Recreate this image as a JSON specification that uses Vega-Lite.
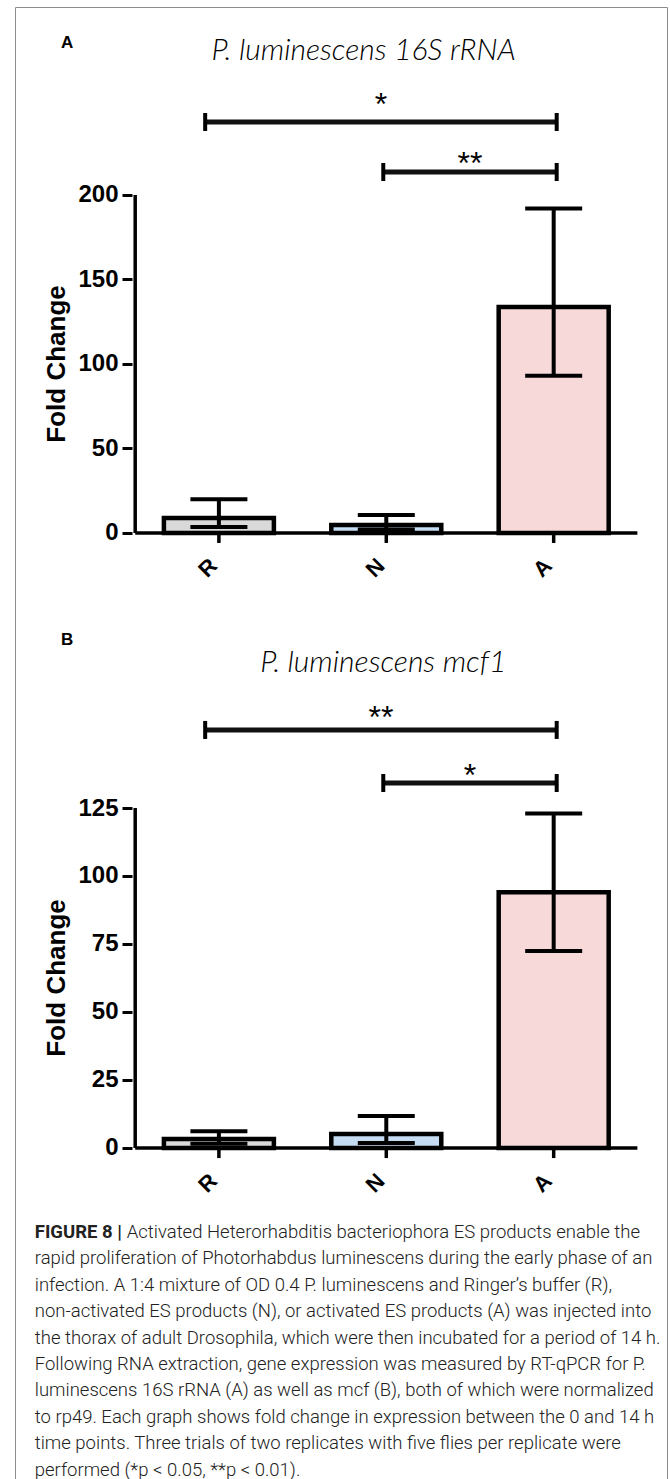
{
  "$schema": "https://vega.github.io/schema/vega-lite/v6.json",
  "width": 652,
  "height": 1474,
  "autosize": "none",
  "padding": {"left": 15, "top": 7, "right": 3, "bottom": 0},
  "background": "white",
  "config": {
    "view": {"stroke": "#8c8c8c", "strokeWidth": 1},
    "font": "Liberation Sans"
  },
  "datasets": {
    "bars": [
      {"panel": "A", "grp": "R", "idx": 1, "val": 8.9, "lo": 3.5, "hi": 20},
      {"panel": "A", "grp": "N", "idx": 2, "val": 4.7, "lo": 2, "hi": 10.6},
      {"panel": "A", "grp": "A", "idx": 3, "val": 133.7, "lo": 93, "hi": 192},
      {"panel": "B", "grp": "R", "idx": 1, "val": 3.3, "lo": 1.6, "hi": 6.2},
      {"panel": "B", "grp": "N", "idx": 2, "val": 5.1, "lo": 1.8, "hi": 11.8},
      {"panel": "B", "grp": "A", "idx": 3, "val": 94, "lo": 72.4, "hi": 123}
    ],
    "frames": [
      {"panel": "A", "x0": 0.5, "x1": 3.5, "ytop": 200},
      {"panel": "B", "x0": 0.5, "x1": 3.5, "ytop": 125}
    ],
    "sig": [
      {"panel": "A", "x1": 0.918, "x2": 3.018, "y": 243.2, "lx": 1.968, "ly": 258.0, "label": "*"},
      {"panel": "A", "x1": 1.982, "x2": 3.018, "y": 213.6, "lx": 2.5, "ly": 223.1, "label": "**"},
      {"panel": "B", "x1": 0.918, "x2": 3.018, "y": 153.7, "lx": 1.968, "ly": 161.0, "label": "**"},
      {"panel": "B", "x1": 1.982, "x2": 3.018, "y": 134.2, "lx": 2.5, "ly": 139.7, "label": "*"}
    ],
    "heads": [
      {"panel": "A", "kind": "title", "text": "P. luminescens 16S rRNA", "tx": 1.865, "ty": 285.5},
      {"panel": "A", "kind": "letter", "text": "A", "tx": 0.094, "ty": 290},
      {"panel": "A", "kind": "ytitle", "text": "Fold Change", "tx": 0.035, "ty": 100},
      {"panel": "B", "kind": "title", "text": "P. luminescens mcf1", "tx": 1.982, "ty": 178.3},
      {"panel": "B", "kind": "letter", "text": "B", "tx": 0.094, "ty": 186.8},
      {"panel": "B", "kind": "ytitle", "text": "Fold Change", "tx": 0.035, "ty": 62.5}
    ],
    "caption": [
      {"line": 1, "seg": "bold", "text": "FIGURE 8 |"},
      {"line": 1, "seg": "after", "text": "Activated Heterorhabditis bacteriophora ES products enable the"},
      {"line": 2, "seg": "plain", "text": "rapid proliferation of Photorhabdus luminescens during the early phase of an"},
      {"line": 3, "seg": "plain", "text": "infection. A 1:4 mixture of OD 0.4 P. luminescens and Ringer’s buffer (R),"},
      {"line": 4, "seg": "plain", "text": "non-activated ES products (N), or activated ES products (A) was injected into"},
      {"line": 5, "seg": "plain", "text": "the thorax of adult Drosophila, which were then incubated for a period of 14 h."},
      {"line": 6, "seg": "plain", "text": "Following RNA extraction, gene expression was measured by RT-qPCR for P."},
      {"line": 7, "seg": "plain", "text": "luminescens 16S rRNA (A) as well as mcf (B), both of which were normalized"},
      {"line": 8, "seg": "plain", "text": "to rp49. Each graph shows fold change in expression between the 0 and 14 h"},
      {"line": 9, "seg": "plain", "text": "time points. Three trials of two replicates with five flies per replicate were"},
      {"line": 10, "seg": "plain", "text": "performed (*p < 0.05, **p < 0.01)."}
    ]
  },
  "layer": [
    {
      "data": {"name": "bars"},
      "transform": [{"filter": "datum.panel === 'A'"}],
      "mark": {"type": "bar", "width": 110, "stroke": "#000", "strokeWidth": 4.5},
      "encoding": {
        "x": {"field": "idx", "type": "quantitative", "scale": {"domain": [-0.1882, 3.6471], "nice": false, "zero": false}, "axis": null},
        "y": {"field": "val", "type": "quantitative", "scale": {"domain": [-560.95, 311.24], "nice": false, "zero": false},
          "axis": {"orient": "left", "offset": -117, "values": [0, 50, 100, 150, 200], "domain": false, "grid": false, "title": null, "tickSize": 10, "tickWidth": 3, "tickColor": "#000", "labelFont": "Liberation Sans", "labelFontSize": 24, "labelFontWeight": "bold", "labelColor": "#000", "labelPadding": 4}},
        "y2": {"datum": 0},
        "color": {"field": "grp", "type": "nominal", "scale": {"domain": ["R", "N", "A"], "range": ["#d9d9d9", "#c6dcf2", "#f8d9da"]}, "legend": null}
      }
    },
    {
      "data": {"name": "bars"},
      "transform": [{"filter": "datum.panel === 'B'"}],
      "mark": {"type": "bar", "width": 110, "stroke": "#000", "strokeWidth": 4.5},
      "encoding": {
        "x": {"field": "idx", "type": "quantitative", "axis": null},
        "y": {"field": "val", "type": "quantitative", "scale": {"domain": [-122.43, 419.49], "nice": false, "zero": false},
          "axis": {"orient": "left", "offset": -117, "values": [0, 25, 50, 75, 100, 125], "domain": false, "grid": false, "title": null, "tickSize": 10, "tickWidth": 3, "tickColor": "#000", "labelFont": "Liberation Sans", "labelFontSize": 24, "labelFontWeight": "bold", "labelColor": "#000", "labelPadding": 4}},
        "y2": {"datum": 0},
        "color": {"field": "grp", "type": "nominal", "legend": null}
      }
    },
    {
      "data": {"name": "bars"},
      "transform": [{"filter": "datum.panel === 'A'"}],
      "mark": {"type": "rule", "color": "#000", "strokeWidth": 4},
      "encoding": {
        "x": {"field": "idx", "type": "quantitative", "axis": null},
        "y": {"field": "lo", "type": "quantitative", "scale": {"domain": [-560.95, 311.24], "nice": false, "zero": false}, "axis": null},
        "y2": {"field": "hi"}
      }
    },
    {
      "data": {"name": "bars"},
      "transform": [{"filter": "datum.panel === 'B'"}],
      "mark": {"type": "rule", "color": "#000", "strokeWidth": 4},
      "encoding": {
        "x": {"field": "idx", "type": "quantitative", "axis": null},
        "y": {"field": "lo", "type": "quantitative", "scale": {"domain": [-122.43, 419.49], "nice": false, "zero": false}, "axis": null},
        "y2": {"field": "hi"}
      }
    },
    {
      "data": {"name": "bars"},
      "transform": [{"filter": "datum.panel === 'A'"}],
      "mark": {"type": "tick", "orient": "horizontal", "size": 57, "thickness": 4, "color": "#000", "opacity": 1},
      "encoding": {
        "x": {"field": "idx", "type": "quantitative", "axis": null},
        "y": {"field": "hi", "type": "quantitative", "scale": {"domain": [-560.95, 311.24], "nice": false, "zero": false}, "axis": null}
      }
    },
    {
      "data": {"name": "bars"},
      "transform": [{"filter": "datum.panel === 'A'"}],
      "mark": {"type": "tick", "orient": "horizontal", "size": 57, "thickness": 4, "color": "#000", "opacity": 1},
      "encoding": {
        "x": {"field": "idx", "type": "quantitative", "axis": null},
        "y": {"field": "lo", "type": "quantitative", "scale": {"domain": [-560.95, 311.24], "nice": false, "zero": false}, "axis": null}
      }
    },
    {
      "data": {"name": "bars"},
      "transform": [{"filter": "datum.panel === 'B'"}],
      "mark": {"type": "tick", "orient": "horizontal", "size": 57, "thickness": 4, "color": "#000", "opacity": 1},
      "encoding": {
        "x": {"field": "idx", "type": "quantitative", "axis": null},
        "y": {"field": "hi", "type": "quantitative", "scale": {"domain": [-122.43, 419.49], "nice": false, "zero": false}, "axis": null}
      }
    },
    {
      "data": {"name": "bars"},
      "transform": [{"filter": "datum.panel === 'B'"}],
      "mark": {"type": "tick", "orient": "horizontal", "size": 57, "thickness": 4, "color": "#000", "opacity": 1},
      "encoding": {
        "x": {"field": "idx", "type": "quantitative", "axis": null},
        "y": {"field": "lo", "type": "quantitative", "scale": {"domain": [-122.43, 419.49], "nice": false, "zero": false}, "axis": null}
      }
    },
    {
      "data": {"name": "bars"},
      "transform": [{"filter": "datum.panel === 'A'"}],
      "mark": {"type": "rule", "color": "#000", "strokeWidth": 3.5},
      "encoding": {
        "x": {"field": "idx", "type": "quantitative", "axis": null},
        "y": {"datum": 0, "type": "quantitative", "scale": {"domain": [-560.95, 311.24], "nice": false, "zero": false}, "axis": null},
        "y2": {"datum": -5.9}
      }
    },
    {
      "data": {"name": "bars"},
      "transform": [{"filter": "datum.panel === 'B'"}],
      "mark": {"type": "rule", "color": "#000", "strokeWidth": 3.5},
      "encoding": {
        "x": {"field": "idx", "type": "quantitative", "axis": null},
        "y": {"datum": 0, "type": "quantitative", "scale": {"domain": [-122.43, 419.49], "nice": false, "zero": false}, "axis": null},
        "y2": {"datum": -3.7}
      }
    },
    {
      "data": {"name": "bars"},
      "transform": [{"filter": "datum.panel === 'A'"}],
      "mark": {"type": "text", "angle": -45, "align": "center", "baseline": "middle", "font": "Liberation Sans", "fontWeight": "bold", "fontSize": 22, "color": "#000"},
      "encoding": {
        "x": {"field": "idx", "type": "quantitative", "axis": null},
        "xOffset": {"value": -11},
        "y": {"datum": -20.7, "type": "quantitative", "scale": {"domain": [-560.95, 311.24], "nice": false, "zero": false}, "axis": null},
        "text": {"field": "grp"}
      }
    },
    {
      "data": {"name": "bars"},
      "transform": [{"filter": "datum.panel === 'B'"}],
      "mark": {"type": "text", "angle": -45, "align": "center", "baseline": "middle", "font": "Liberation Sans", "fontWeight": "bold", "fontSize": 22, "color": "#000"},
      "encoding": {
        "x": {"field": "idx", "type": "quantitative", "axis": null},
        "xOffset": {"value": -11},
        "y": {"datum": -12.9, "type": "quantitative", "scale": {"domain": [-122.43, 419.49], "nice": false, "zero": false}, "axis": null},
        "text": {"field": "grp"}
      }
    },
    {
      "data": {"name": "frames"},
      "transform": [{"filter": "datum.panel === 'A'"}],
      "mark": {"type": "rule", "color": "#000", "strokeWidth": 3.5},
      "encoding": {
        "x": {"field": "x0", "type": "quantitative", "axis": null},
        "y": {"field": "ytop", "type": "quantitative", "scale": {"domain": [-560.95, 311.24], "nice": false, "zero": false}, "axis": null},
        "y2": {"datum": 0}
      }
    },
    {
      "data": {"name": "frames"},
      "transform": [{"filter": "datum.panel === 'B'"}],
      "mark": {"type": "rule", "color": "#000", "strokeWidth": 3.5},
      "encoding": {
        "x": {"field": "x0", "type": "quantitative", "axis": null},
        "y": {"field": "ytop", "type": "quantitative", "scale": {"domain": [-122.43, 419.49], "nice": false, "zero": false}, "axis": null},
        "y2": {"datum": 0}
      }
    },
    {
      "data": {"name": "frames"},
      "transform": [{"filter": "datum.panel === 'A'"}],
      "mark": {"type": "rule", "color": "#000", "strokeWidth": 3.5},
      "encoding": {
        "x": {"field": "x0", "type": "quantitative", "axis": null},
        "x2": {"field": "x1"},
        "y": {"datum": 0, "type": "quantitative", "scale": {"domain": [-560.95, 311.24], "nice": false, "zero": false}, "axis": null}
      }
    },
    {
      "data": {"name": "frames"},
      "transform": [{"filter": "datum.panel === 'B'"}],
      "mark": {"type": "rule", "color": "#000", "strokeWidth": 3.5},
      "encoding": {
        "x": {"field": "x0", "type": "quantitative", "axis": null},
        "x2": {"field": "x1"},
        "y": {"datum": 0, "type": "quantitative", "scale": {"domain": [-122.43, 419.49], "nice": false, "zero": false}, "axis": null}
      }
    },
    {
      "data": {"name": "sig"},
      "transform": [{"filter": "datum.panel === 'A'"}],
      "mark": {"type": "rule", "color": "#111", "strokeWidth": 5},
      "encoding": {
        "x": {"field": "x1", "type": "quantitative", "axis": null},
        "x2": {"field": "x2"},
        "y": {"field": "y", "type": "quantitative", "scale": {"domain": [-560.95, 311.24], "nice": false, "zero": false}, "axis": null}
      }
    },
    {
      "data": {"name": "sig"},
      "transform": [{"filter": "datum.panel === 'B'"}],
      "mark": {"type": "rule", "color": "#111", "strokeWidth": 5},
      "encoding": {
        "x": {"field": "x1", "type": "quantitative", "axis": null},
        "x2": {"field": "x2"},
        "y": {"field": "y", "type": "quantitative", "scale": {"domain": [-122.43, 419.49], "nice": false, "zero": false}, "axis": null}
      }
    },
    {
      "data": {"name": "sig"},
      "transform": [{"filter": "datum.panel === 'A'"}],
      "mark": {"type": "tick", "orient": "vertical", "size": 18, "thickness": 4, "color": "#000", "opacity": 1},
      "encoding": {
        "x": {"field": "x1", "type": "quantitative", "axis": null},
        "y": {"field": "y", "type": "quantitative", "scale": {"domain": [-560.95, 311.24], "nice": false, "zero": false}, "axis": null}
      }
    },
    {
      "data": {"name": "sig"},
      "transform": [{"filter": "datum.panel === 'A'"}],
      "mark": {"type": "tick", "orient": "vertical", "size": 18, "thickness": 4, "color": "#000", "opacity": 1},
      "encoding": {
        "x": {"field": "x2", "type": "quantitative", "axis": null},
        "y": {"field": "y", "type": "quantitative", "scale": {"domain": [-560.95, 311.24], "nice": false, "zero": false}, "axis": null}
      }
    },
    {
      "data": {"name": "sig"},
      "transform": [{"filter": "datum.panel === 'B'"}],
      "mark": {"type": "tick", "orient": "vertical", "size": 18, "thickness": 4, "color": "#000", "opacity": 1},
      "encoding": {
        "x": {"field": "x1", "type": "quantitative", "axis": null},
        "y": {"field": "y", "type": "quantitative", "scale": {"domain": [-122.43, 419.49], "nice": false, "zero": false}, "axis": null}
      }
    },
    {
      "data": {"name": "sig"},
      "transform": [{"filter": "datum.panel === 'B'"}],
      "mark": {"type": "tick", "orient": "vertical", "size": 18, "thickness": 4, "color": "#000", "opacity": 1},
      "encoding": {
        "x": {"field": "x2", "type": "quantitative", "axis": null},
        "y": {"field": "y", "type": "quantitative", "scale": {"domain": [-122.43, 419.49], "nice": false, "zero": false}, "axis": null}
      }
    },
    {
      "data": {"name": "sig"},
      "transform": [{"filter": "datum.panel === 'A'"}],
      "mark": {"type": "text", "align": "center", "baseline": "middle", "dy": 8, "font": "Liberation Sans", "fontSize": 32, "color": "#000"},
      "encoding": {
        "x": {"field": "lx", "type": "quantitative", "axis": null},
        "y": {"field": "ly", "type": "quantitative", "scale": {"domain": [-560.95, 311.24], "nice": false, "zero": false}, "axis": null},
        "text": {"field": "label"}
      }
    },
    {
      "data": {"name": "sig"},
      "transform": [{"filter": "datum.panel === 'B'"}],
      "mark": {"type": "text", "align": "center", "baseline": "middle", "dy": 8, "font": "Liberation Sans", "fontSize": 32, "color": "#000"},
      "encoding": {
        "x": {"field": "lx", "type": "quantitative", "axis": null},
        "y": {"field": "ly", "type": "quantitative", "scale": {"domain": [-122.43, 419.49], "nice": false, "zero": false}, "axis": null},
        "text": {"field": "label"}
      }
    },
    {
      "data": {"name": "heads"},
      "transform": [{"filter": "datum.panel === 'A' && datum.kind === 'title'"}],
      "mark": {"type": "text", "align": "center", "baseline": "middle", "font": "Lato", "fontStyle": "italic", "fontWeight": 300, "fontSize": 30, "color": "#000"},
      "encoding": {
        "x": {"field": "tx", "type": "quantitative", "axis": null},
        "y": {"field": "ty", "type": "quantitative", "scale": {"domain": [-560.95, 311.24], "nice": false, "zero": false}, "axis": null},
        "text": {"field": "text"}
      }
    },
    {
      "data": {"name": "heads"},
      "transform": [{"filter": "datum.panel === 'B' && datum.kind === 'title'"}],
      "mark": {"type": "text", "align": "center", "baseline": "middle", "font": "Lato", "fontStyle": "italic", "fontWeight": 300, "fontSize": 30, "color": "#000"},
      "encoding": {
        "x": {"field": "tx", "type": "quantitative", "axis": null},
        "y": {"field": "ty", "type": "quantitative", "scale": {"domain": [-122.43, 419.49], "nice": false, "zero": false}, "axis": null},
        "text": {"field": "text"}
      }
    },
    {
      "data": {"name": "heads"},
      "transform": [{"filter": "datum.panel === 'A' && datum.kind === 'letter'"}],
      "mark": {"type": "text", "align": "center", "baseline": "middle", "font": "Liberation Sans", "fontWeight": "bold", "fontSize": 17, "color": "#000"},
      "encoding": {
        "x": {"field": "tx", "type": "quantitative", "axis": null},
        "y": {"field": "ty", "type": "quantitative", "scale": {"domain": [-560.95, 311.24], "nice": false, "zero": false}, "axis": null},
        "text": {"field": "text"}
      }
    },
    {
      "data": {"name": "heads"},
      "transform": [{"filter": "datum.panel === 'B' && datum.kind === 'letter'"}],
      "mark": {"type": "text", "align": "center", "baseline": "middle", "font": "Liberation Sans", "fontWeight": "bold", "fontSize": 17, "color": "#000"},
      "encoding": {
        "x": {"field": "tx", "type": "quantitative", "axis": null},
        "y": {"field": "ty", "type": "quantitative", "scale": {"domain": [-122.43, 419.49], "nice": false, "zero": false}, "axis": null},
        "text": {"field": "text"}
      }
    },
    {
      "data": {"name": "heads"},
      "transform": [{"filter": "datum.panel === 'A' && datum.kind === 'ytitle'"}],
      "mark": {"type": "text", "align": "center", "baseline": "middle", "angle": 270, "font": "Liberation Sans", "fontWeight": "bold", "fontSize": 26, "color": "#000"},
      "encoding": {
        "x": {"field": "tx", "type": "quantitative", "axis": null},
        "y": {"field": "ty", "type": "quantitative", "scale": {"domain": [-560.95, 311.24], "nice": false, "zero": false}, "axis": null},
        "text": {"field": "text"}
      }
    },
    {
      "data": {"name": "heads"},
      "transform": [{"filter": "datum.panel === 'B' && datum.kind === 'ytitle'"}],
      "mark": {"type": "text", "align": "center", "baseline": "middle", "angle": 270, "font": "Liberation Sans", "fontWeight": "bold", "fontSize": 26, "color": "#000"},
      "encoding": {
        "x": {"field": "tx", "type": "quantitative", "axis": null},
        "y": {"field": "ty", "type": "quantitative", "scale": {"domain": [-122.43, 419.49], "nice": false, "zero": false}, "axis": null},
        "text": {"field": "text"}
      }
    },
    {
      "data": {"name": "caption"},
      "transform": [{"filter": "datum.seg === 'plain'"}],
      "mark": {"type": "text", "align": "left", "baseline": "middle", "font": "Roboto", "fontWeight": 300, "fontSize": 18.5, "color": "#222"},
      "encoding": {
        "x": {"datum": -0.1, "type": "quantitative", "axis": null},
        "y": {"field": "line", "type": "quantitative", "scale": {"domain": [-45.402, 10.432], "reverse": true, "nice": false, "zero": false}, "axis": null},
        "text": {"field": "text"}
      }
    },
    {
      "data": {"name": "caption"},
      "transform": [{"filter": "datum.seg === 'bold'"}],
      "mark": {"type": "text", "align": "left", "baseline": "middle", "font": "Roboto", "fontWeight": "bold", "fontSize": 18.5, "color": "#222"},
      "encoding": {
        "x": {"datum": -0.1, "type": "quantitative", "axis": null},
        "y": {"field": "line", "type": "quantitative", "scale": {"domain": [-45.402, 10.432], "reverse": true, "nice": false, "zero": false}, "axis": null},
        "text": {"field": "text"}
      }
    },
    {
      "data": {"name": "caption"},
      "transform": [{"filter": "datum.seg === 'after'"}],
      "mark": {"type": "text", "align": "left", "baseline": "middle", "dx": 92, "font": "Roboto", "fontWeight": 300, "fontSize": 18.5, "color": "#222"},
      "encoding": {
        "x": {"datum": -0.1, "type": "quantitative", "axis": null},
        "y": {"field": "line", "type": "quantitative", "scale": {"domain": [-45.402, 10.432], "reverse": true, "nice": false, "zero": false}, "axis": null},
        "text": {"field": "text"}
      }
    }
  ],
  "resolve": {"scale": {"y": "independent"}}
}
